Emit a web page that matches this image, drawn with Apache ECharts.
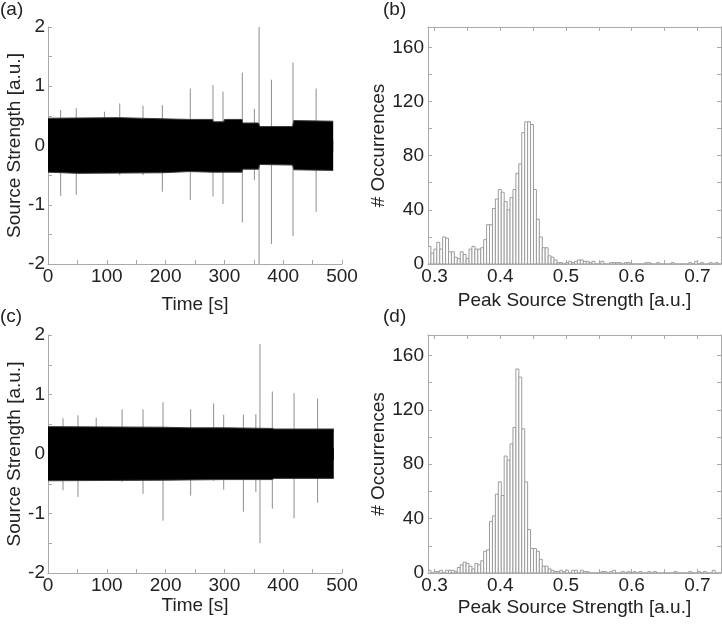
<!DOCTYPE html>
<html>
<head>
<meta charset="utf-8">
<script src="https://cdn.jsdelivr.net/npm/echarts@6/dist/echarts.min.js"></script>
<style>
  html, body { margin: 0; padding: 0; background: #fff; }
  #main { width: 722px; height: 624px; }
</style>
</head>
<body>
<div id="main"></div>
<script>
// (a) noise band envelope, [time s, source strength]
var bandTopA = [[0, 0.46], [120, 0.47], [195, 0.45], [240, 0.44], [280, 0.44], [281, 0.40], [299, 0.40], [300, 0.44],
  [330, 0.44], [331, 0.38], [358, 0.38], [360, 0.32], [416, 0.32], [418, 0.42], [485, 0.41]];
var bandBottomA = [[0, -0.45], [50, -0.47], [195, -0.46], [240, -0.44], [280, -0.45], [330, -0.45], [331, -0.40],
  [358, -0.40], [360, -0.32], [416, -0.33], [418, -0.41], [485, -0.42]];
// (a) spikes, [time s, low, high]
var spikesA = [[21.5, -0.85, 0.60], [48, -0.83, 0.63], [96, -0.3, 0.57], [122, -0.5, 0.71], [161.5, -0.5, 0.67],
  [194.5, -0.78, 0.68], [242, -0.92, 0.96], [280.6, -0.86, 1.02], [297.6, -0.99, 0.91], [330.5, -1.30, 1.23],
  [351, -0.58, 0.62], [359, -2.0, 2.0], [380, -1.66, 1.11], [416.7, -1.53, 1.40], [456, -1.12, 0.96]];

// (c) noise band envelope
var bandTopC = [[0, 0.46], [195, 0.45], [240, 0.44], [300, 0.44], [380, 0.43], [385, 0.42], [486, 0.42]];
var bandBottomC = [[0, -0.45], [195, -0.44], [300, -0.43], [380, -0.43], [385, -0.41], [486, -0.41]];
// (c) spikes
var spikesC = [[25.5, -0.61, 0.60], [51, -0.72, 0.65], [82, -0.4, 0.61], [126, -0.47, 0.75], [161.6, -0.67, 0.75],
  [195.6, -1.12, 0.87], [242.6, -0.70, 0.75], [281.7, -0.45, 0.85], [298.8, -0.60, 0.66], [332.3, -0.97, 0.66],
  [353.5, -0.64, 0.67], [360.5, -1.50, 1.85], [381.5, -0.92, 1.05], [418.5, -1.08, 1.02], [458.5, -0.82, 0.93]];

// histograms: 100 bins starting at histStart
var histStart = 0.29;
var binWidth = 0.00446;
var countsB = [13, 8, 11, 16, 11, 20, 19, 9, 9, 5, 4, 9, 7, 4, 11, 13, 11, 11, 12, 18, 29, 29,
  41, 48, 55, 53, 46, 40, 49, 55, 67, 74, 97, 105, 105, 103, 55, 33, 20, 12, 12, 6, 5, 3, 1, 1,
  0, 1, 2, 1, 2, 3, 3, 2, 2, 1, 2, 0, 0, 2, 0, 0, 1, 1, 1, 1, 0, 1, 1, 0, 0, 0, 0, 0, 1, 1,
  0, 0, 1, 0, 0, 0, 0, 1, 0, 0, 0, 0, 0, 1, 0, 2, 0, 1, 0, 0, 1, 0, 1, 0];
var countsD = [2, 0, 1, 1, 2, 0, 2, 2, 2, 1, 4, 6, 8, 7, 5, 3, 7, 6, 9, 16, 17,
  38, 42, 58, 67, 57, 86, 83, 95, 107, 150, 144, 106, 67, 32, 18, 18, 16, 10, 5, 5, 3, 2,
  1, 1, 2, 1, 2, 0, 2, 2, 0, 2, 1, 1, 0, 0, 0, 0, 1, 1, 0, 1, 2, 0, 0, 1, 0, 1, 0, 1, 0, 1,
  0, 0, 1, 0, 1, 0, 0, 0, 0, 0, 0, 1, 0, 0, 0, 0, 1, 0, 0, 1, 0, 1, 0, 0, 2, 0, 0];

// tick labels of the histogram x axes
var peakLabels = [0.3, 0.4, 0.5, 0.6, 0.7];
var peakTicks = [0.3, 0.35, 0.4, 0.45, 0.5, 0.55, 0.6, 0.65, 0.7];

var axisGray = '#a9a9a9';
var textColor = '#222';
var font = 'Liberation Sans, Arial, sans-serif';
var fs = 19;

var chart = echarts.init(document.getElementById('main'));

function tickStyle() {
  return {show: true, inside: true, length: 4, lineStyle: {color: axisGray, width: 1}};
}

function timeAxis(grid, gap) {
  return {
    type: 'value', gridIndex: grid, min: 0, max: 500, interval: 100,
    name: 'Time [s]', nameLocation: 'middle', nameGap: gap,
    nameTextStyle: {color: textColor, fontSize: fs, fontFamily: font},
    axisLine: {show: true, onZero: false, lineStyle: {color: axisGray}},
    axisTick: tickStyle(),
    minorTick: {show: true, splitNumber: 2, length: 4, lineStyle: {color: axisGray}},
    axisLabel: {color: textColor, fontSize: fs, fontFamily: font, margin: 3},
    splitLine: {show: false}
  };
}

function strengthAxis(grid) {
  return {
    type: 'value', gridIndex: grid, min: -2, max: 2, interval: 1,
    name: 'Source Strength [a.u.]', nameLocation: 'middle', nameGap: 24,
    nameTextStyle: {color: textColor, fontSize: fs, fontFamily: font},
    axisLine: {show: true, onZero: false, lineStyle: {color: axisGray}},
    axisTick: tickStyle(),
    minorTick: {show: true, splitNumber: 2, length: 4, lineStyle: {color: axisGray}},
    axisLabel: {color: textColor, fontSize: fs, fontFamily: font, margin: 3},
    splitLine: {show: false}
  };
}

function peakAxis(grid, top, gap) {
  return {
    type: 'value', gridIndex: grid, min: histStart, max: 0.736, position: top ? 'top' : 'bottom',
    name: top ? '' : 'Peak Source Strength [a.u.]', nameLocation: 'middle', nameGap: gap,
    nameTextStyle: {color: textColor, fontSize: fs, fontFamily: font},
    axisLine: {show: true, onZero: false, lineStyle: {color: axisGray}},
    axisTick: Object.assign(tickStyle(), {customValues: peakTicks}),
    axisLabel: {show: !top, color: textColor, fontSize: fs, fontFamily: font, margin: 3,
      customValues: peakLabels, formatter: function (v) { return v.toFixed(1); }},
    splitLine: {show: false}
  };
}

function countAxis(grid, right) {
  return {
    type: 'value', gridIndex: grid, min: 0, max: 175, interval: 20, position: right ? 'right' : 'left',
    name: right ? '' : '# Occurrences', nameLocation: 'middle', nameGap: 25,
    nameTextStyle: {color: textColor, fontSize: fs, fontFamily: font},
    axisLine: {show: true, onZero: false, lineStyle: {color: axisGray}},
    axisTick: tickStyle(),
    axisLabel: {show: !right, color: textColor, fontSize: fs, fontFamily: font, margin: 4, showMaxLabel: false,
      formatter: function (v) { return v % 40 === 0 ? String(v) : ''; }},
    splitLine: {show: false}
  };
}

// upper envelope fills a little below zero, lower one a little above, so no seam shows at 0
function bandSeries(xi, yi, data, origin) {
  return {
    type: 'line', xAxisIndex: xi, yAxisIndex: yi, data: data, symbol: 'none', silent: true, z: 3,
    lineStyle: {color: '#3a3a3a', width: 1}, areaStyle: {color: '#000', opacity: 1, origin: origin}
  };
}

function spikeSeries(xi, yi, data) {
  return {
    type: 'custom', xAxisIndex: xi, yAxisIndex: yi, data: data, clip: true, silent: true, z: 2,
    renderItem: function (params, api) {
      var p0 = api.coord([api.value(0), api.value(1)]);
      var p1 = api.coord([api.value(0), api.value(2)]);
      return {type: 'line', shape: {x1: p0[0], y1: p0[1], x2: p1[0], y2: p1[1]},
        style: {stroke: '#8e8e8e', lineWidth: 1}};
    }
  };
}

function histSeries(xi, yi, counts) {
  return {
    type: 'custom', xAxisIndex: xi, yAxisIndex: yi, clip: true, silent: true,
    data: counts.map(function (c, i) { return [histStart + i * binWidth, histStart + (i + 1) * binWidth, c]; }),
    renderItem: function (params, api) {
      var p0 = api.coord([api.value(0), api.value(2)]);
      var p1 = api.coord([api.value(1), 0]);
      return {type: 'rect', shape: {x: p0[0], y: p0[1], width: p1[0] - p0[0], height: p1[1] - p0[1]},
        style: {fill: '#fff', stroke: '#9c9c9c', lineWidth: 1}};
    }
  };
}

function panelLetter(text, x, y) {
  return {type: 'text', left: x, top: y, style: {text: text, fill: textColor, fontSize: fs, fontFamily: font}};
}

var option = {
  animation: false,
  backgroundColor: '#fff',
  graphic: [panelLetter('(a)', 0, 0), panelLetter('(b)', 383, 0), panelLetter('(c)', 0, 307), panelLetter('(d)', 383, 307)],
  grid: [
    {left: 48, top: 27, width: 294, height: 237},
    {left: 428, top: 27, width: 293, height: 237},
    {left: 48, top: 335, width: 294, height: 238},
    {left: 428, top: 335, width: 293, height: 238}
  ],
  xAxis: [timeAxis(0, 31), peakAxis(1, false, 27), peakAxis(1, true, 0), timeAxis(2, 23), peakAxis(3, false, 25), peakAxis(3, true, 0)],
  yAxis: [strengthAxis(0), countAxis(1, false), countAxis(1, true), strengthAxis(2), countAxis(3, false), countAxis(3, true)],
  series: [
    spikeSeries(0, 0, spikesA),
    bandSeries(0, 0, bandTopA, -0.1),
    bandSeries(0, 0, bandBottomA, 0.1),
    histSeries(1, 1, countsB),
    spikeSeries(3, 3, spikesC),
    bandSeries(3, 3, bandTopC, -0.1),
    bandSeries(3, 3, bandBottomC, 0.1),
    histSeries(4, 4, countsD)
  ]
};

chart.setOption(option);
</script>
</body>
</html>
